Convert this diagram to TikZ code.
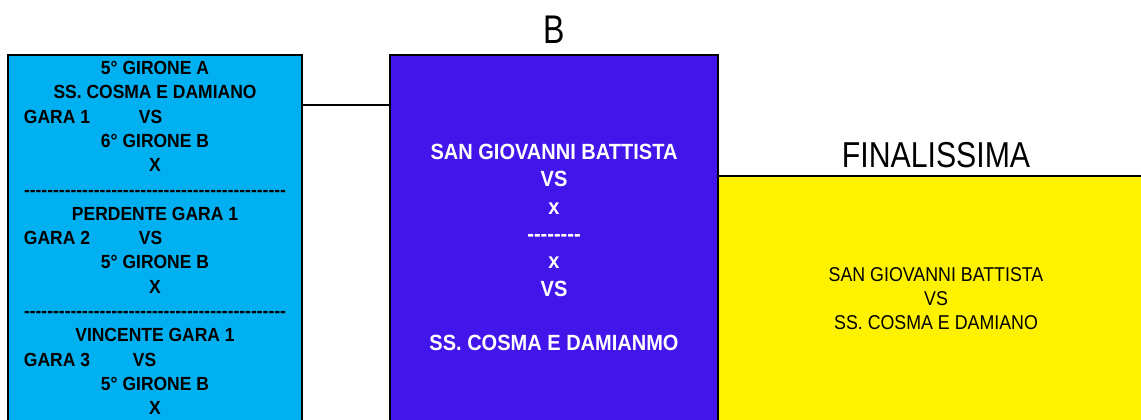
\documentclass[tikz,border=0pt]{standalone}
\usepackage{fontspec}
\setmainfont{Liberation Sans}
\newfontfamily\gironefont[FakeStretch=0.92]{Liberation Sans}
\newfontfamily\semifont[FakeStretch=0.91]{Liberation Sans}
\newfontfamily\finalfont[FakeStretch=0.89]{Liberation Sans}
\newfontfamily\titlefont[FakeStretch=0.84]{Liberation Sans}
\newfontfamily\headfont[FakeStretch=0.8]{Liberation Sans}
\usetikzlibrary{positioning}
\definecolor{gironeblue}{RGB}{0,176,240}
\definecolor{semiviolet}{RGB}{66,22,234}
\newcommand\dashrow[1]{\foreach \d in {1,...,#1}{-}}
\newcommand\garaline[2]{\makebox[262bp][l]{\makebox[#2][l]{#1}VS}}
\begin{document}
\begin{tikzpicture}[
        x                       = 1bp,
        y                       = -1bp,
        box/.style              = {draw, rectangle, line width=2bp, inner sep=0pt, outer sep=0pt, align=center},
        title/.style            = {inner sep=0pt, outer sep=0pt},
      ]
    \useasboundingbox (0,0) rectangle (1141,419);
    \clip (0,0) rectangle (1141,419);
    % spareggi
    \node[box, fill=gironeblue, anchor=north west, minimum width=294bp, minimum height=366bp,
          font=\gironefont\bfseries\fontsize{19bp}{24.3bp}\selectfont] (spareggi) at (8,55) {
        5° GIRONE A\\
        SS. COSMA E DAMIANO\\
        \garaline{GARA 1}{115bp}\\
        6° GIRONE B\\
        X\\
        \dashrow{45}\\
        PERDENTE GARA 1\\
        \garaline{GARA 2}{115bp}\\
        5° GIRONE B\\
        X\\
        \dashrow{45}\\
        VINCENTE GARA 1\\
        \garaline{GARA 3}{109bp}\\
        5° GIRONE B\\
        X};
    % semifinale
    \node[box, fill=semiviolet, text=white, right=88bp of spareggi.north east, anchor=north west,
          minimum width=328bp, minimum height=385bp,
          font=\semifont\bfseries\fontsize{22bp}{27.3bp}\selectfont] (semi) {
        SAN GIOVANNI BATTISTA\\
        VS\\
        x\\
        \dashrow{8}\\
        x\\
        VS\\[27.3bp]
        SS. COSMA E DAMIANMO};
    % finale
    \node[box, fill=yellow, anchor=north west, minimum width=436bp, minimum height=246bp,
          font=\finalfont\fontsize{20bp}{24bp}\selectfont] (finale) at ([yshift=-121bp]semi.north east) {
        SAN GIOVANNI BATTISTA\\
        VS\\
        SS. COSMA E DAMIANO};
    \node[title, above=11.5bp of semi, font=\headfont\fontsize{40bp}{40bp}\selectfont] (girB) {B};
    \node[title, above=8bp of finale, font=\titlefont\fontsize{36bp}{36bp}\selectfont] (finTitle) {FINALISSIMA};
    \draw[line width=1.8bp] ([yshift=-50bp]spareggi.north east) -- ([yshift=-50bp]semi.north west);
\end{tikzpicture}
\end{document}
